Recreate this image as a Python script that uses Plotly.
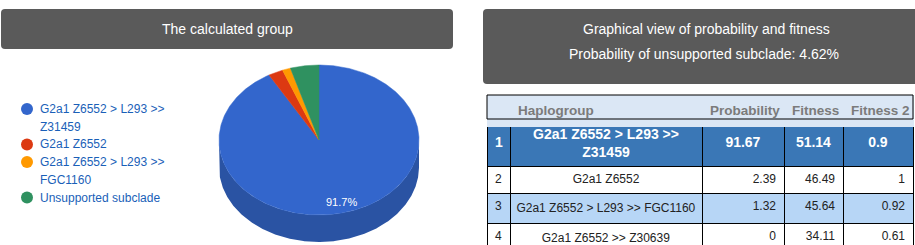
import math
import textwrap
import plotly.graph_objects as go

# ---------------- data ----------------
pie_labels = ["G2a1 Z6552 > L293 >> Z31459", "G2a1 Z6552",
              "G2a1 Z6552 > L293 >> FGC1160", "Unsupported subclade"]
pie_values = [91.67, 2.39, 1.32, 4.62]
pie_colors = ["#3366cc", "#dc3912", "#ff9900", "#2f9160"]
pie_side_colors = ["#2a53a3", "#a52b0e", "#bf7300", "#236c48"]

ranks = [1, 2, 3, 4]
haplogroups = ["G2a1 Z6552 > L293 >> Z31459", "G2a1 Z6552",
               "G2a1 Z6552 > L293 >> FGC1160", "G2a1 Z6552 >> Z30639"]
probability = [91.67, 2.39, 1.32, 0]
fitness = [51.14, 46.49, 45.64, 34.11]
fitness2 = [0.9, 1, 0.92, 0.61]
table_headers = ["", "Haplogroup", "Probability", "Fitness", "Fitness 2"]

left_title = "The calculated group"
right_title = "Graphical view of probability and fitness"
unsupported_text = "Probability of unsupported subclade: 4.62%"

# ---------------- layout constants (pixels) ----------------
W, H = 915, 245
FONT = "Liberation Sans, Arial, sans-serif"
HEADER_BG = "#5a5a5a"
CX, CY, RX, RY, DEPTH = 319, 140, 100, 75, 27
NB = "\u00a0"

fig = go.Figure()


def ell(theta_deg, dy=0.0, k=1.0):
    t = math.radians(theta_deg)
    return CX + k * RX * math.sin(t), CY - k * RY * math.cos(t) + dy


total = sum(pie_values)
bounds = []
acc = 0.0
for v in pie_values:
    a0 = acc / total * 360
    acc += v
    a1 = acc / total * 360
    bounds.append((a0, a1))

# side walls (front half only: 90..270 deg clockwise from top)
for (a0, a1), sc in zip(bounds, pie_side_colors):
    s0, s1 = max(a0, 90), min(a1, 270)
    if s1 <= s0:
        continue
    n = max(2, int((s1 - s0) * 2))
    angs = [s0 + (s1 - s0) * i / n for i in range(n + 1)]
    top = [ell(a) for a in angs]
    bot = [ell(a, DEPTH) for a in reversed(angs)]
    pts = top + bot + [top[0]]
    fig.add_trace(go.Scatter(x=[p[0] for p in pts], y=[p[1] for p in pts],
                             mode="lines", fill="toself", fillcolor=sc,
                             line=dict(width=0, color=sc), hoverinfo="skip",
                             showlegend=False))

# top faces
for (a0, a1), c, lab, v in zip(bounds, pie_colors, pie_labels, pie_values):
    n = max(2, int((a1 - a0) * 2))
    angs = [a0 + (a1 - a0) * i / n for i in range(n + 1)]
    pts = [(CX, CY)] + [ell(a) for a in angs] + [(CX, CY)]
    fig.add_trace(go.Scatter(x=[p[0] for p in pts], y=[p[1] for p in pts],
                             mode="lines", fill="toself", fillcolor=c,
                             line=dict(width=0.5, color=c), name=lab,
                             hoverinfo="name", showlegend=False))
    frac = v / total
    if frac >= 0.05:
        lx, ly = ell((a0 + a1) / 2, k=0.86)
        fig.add_annotation(x=lx, y=ly, text=f"{frac * 100:.1f}%", showarrow=False,
                           font=dict(family=FONT, size=11, color="white"),
                           xanchor="center", yanchor="middle")

# legend (dots + wrapped labels)
LEG_X, LEG_Y0, LEG_STEP = 27, 109, 17.7
line_i = 0
dot_x, dot_y = [], []
for lab, c in zip(pie_labels, pie_colors):
    lines = textwrap.wrap(lab, 20)
    dot_x.append(LEG_X)
    dot_y.append(LEG_Y0 + line_i * LEG_STEP)
    for ln in lines:
        fig.add_annotation(x=LEG_X + 11, y=LEG_Y0 + line_i * LEG_STEP, text=ln,
                           showarrow=False, xanchor="left", yanchor="middle",
                           font=dict(family=FONT, size=12, color="#1a5fb8"))
        line_i += 1
fig.add_trace(go.Scatter(x=dot_x, y=dot_y, mode="markers",
                         marker=dict(size=12, color=pie_colors, line=dict(width=0)),
                         hoverinfo="skip", showlegend=False))


# header boxes
def rrect(x0, y0, x1, y1, r):
    return (f"M {x0 + r},{y0} L {x1 - r},{y0} Q {x1},{y0} {x1},{y0 + r} "
            f"L {x1},{y1 - r} Q {x1},{y1} {x1 - r},{y1} L {x0 + r},{y1} "
            f"Q {x0},{y1} {x0},{y1 - r} L {x0},{y0 + r} Q {x0},{y0} {x0 + r},{y0} Z")


fig.add_shape(type="path", path=rrect(1, 9, 453, 49, 4), xref="x", yref="y",
              fillcolor=HEADER_BG, line=dict(width=0), layer="below")
fig.add_shape(type="path", path=rrect(483, 9, 925, 84, 4), xref="x", yref="y",
              fillcolor=HEADER_BG, line=dict(width=0), layer="below")
fig.add_annotation(x=227, y=29, text=left_title, showarrow=False,
                   font=dict(family=FONT, size=14, color="white"))
fig.add_annotation(x=706, y=29, text=right_title, showarrow=False,
                   font=dict(family=FONT, size=14, color="white"))
fig.add_annotation(x=704, y=54, text=unsupported_text, showarrow=False,
                   font=dict(family=FONT, size=14, color="white"))

# ---------------- table ----------------
TX0, TX1 = 487, 913
T_TOP, HEAD_H, ROW1_H, ROW_H = 95, 24, 47, 26
COLW = [23, 192, 82, 59, 70]   # sums to table width in px


def nb(s):
    return s.replace(" ", NB)


def row_values(i, bold=False):
    vals = [str(ranks[i]), haplogroups[i], f"{probability[i]:g}",
            f"{fitness[i]:g}", f"{fitness2[i]:g}"]
    if bold:
        return [f"<b>{nb(v)}</b>" for v in vals]
    return [nb(v) for v in vals]


# part A: column headers + best row (centered, highlighted)
rowA = row_values(0, bold=True)
best_hap = rowA[1]
rowA[1] = ""  # wrapped, centered text drawn as overlay below
yA0 = T_TOP + HEAD_H + ROW1_H
fig.add_trace(go.Table(
    domain=dict(x=[TX0 / W, TX1 / W], y=[1 - yA0 / H, 1 - T_TOP / H]),
    columnwidth=COLW,
    header=dict(values=[f"<b>{nb(h)}</b>" for h in table_headers],
                fill_color="#dbe7f5", line=dict(color="#dbe7f5", width=1),
                align="left", height=HEAD_H,
                font=dict(family=FONT, size=13.5, color="#7b7b7b")),
    cells=dict(values=[[v] for v in rowA],
               fill_color="#3a77b6", line=dict(color="#000000", width=1),
               align=["left", "center", "center", "center", "center"],
               height=ROW1_H,
               font=dict(family=FONT, size=14, color="white")),
))
fig.add_annotation(
    x=TX0 + COLW[0] + COLW[1] / 2, y=T_TOP + HEAD_H + ROW1_H / 2,
    text="<br>".join(f"<b>{ln}</b>" for ln in textwrap.wrap(haplogroups[0], 20)),
    showarrow=False, align="center", xanchor="center", yanchor="middle",
    font=dict(family=FONT, size=14, color="white"))

# part B: remaining rows (right-aligned numbers)
rest = [row_values(i) for i in range(1, len(ranks))]
row_fill = ["#ffffff", "#b7d6f6", "#ffffff"]
alignB = ["left", "center", "right", "right", "right"]
fig.add_trace(go.Table(
    domain=dict(x=[TX0 / W, TX1 / W], y=[0, 1 - yA0 / H]),
    columnwidth=COLW,
    header=dict(values=rest[0], fill_color=row_fill[0],
                line=dict(color="#000000", width=1), align=alignB, height=ROW_H + 1,
                font=dict(family=FONT, size=12, color="#222222")),
    cells=dict(values=[[r[j] for r in rest[1:]] for j in range(5)],
               fill_color=[row_fill[1:]] * 5,
               line=dict(color="#000000", width=1), align=alignB, height=ROW_H - 1,
               font=dict(family=FONT, size=12, color="#222222")),
))

fig.add_shape(type="rect", x0=TX0, x1=TX1, y0=T_TOP, y1=T_TOP + HEAD_H,
              xref="x", yref="y", line=dict(color="#000000", width=1),
              fillcolor="rgba(0,0,0,0)", layer="above")

fig.update_layout(
    width=W, height=H, margin=dict(l=0, r=0, t=0, b=0),
    paper_bgcolor="white", plot_bgcolor="white", showlegend=False,
    xaxis=dict(domain=[0, 1], range=[0, W], visible=False, fixedrange=True),
    yaxis=dict(domain=[0, 1], range=[H, 0], visible=False, fixedrange=True),
)

fig.write_html("out.html")
